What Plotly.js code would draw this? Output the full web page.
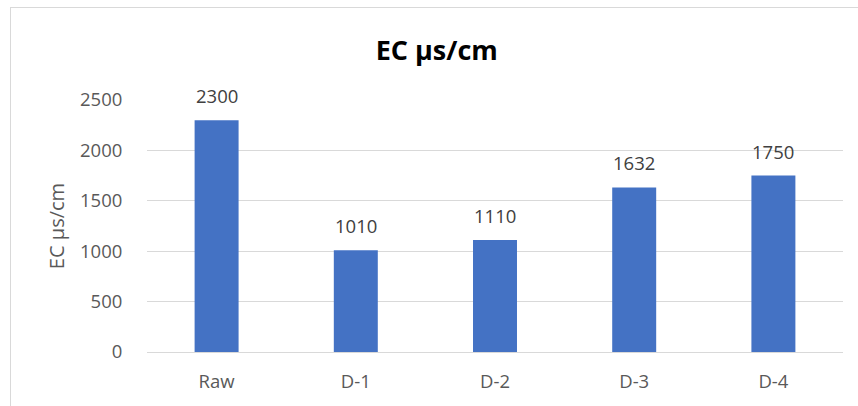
<!DOCTYPE html>
<html>
<head>
<meta charset="utf-8">
<script src="https://cdn.plot.ly/plotly-3.0.1.min.js"></script>
<style>
  html, body { margin: 0; padding: 0; background: #ffffff; }
  #wrap { position: relative; width: 858px; height: 406px; overflow: hidden; }
  #chart { width: 858px; height: 406px; }
  #frame {
    position: absolute; left: 10px; top: 7px; width: 860px; height: 420px;
    border-left: 1px solid #d9d9d9; border-top: 1px solid #d9d9d9;
    pointer-events: none;
  }
</style>
</head>
<body>
<div id="wrap">
  <div id="chart"></div>
  <div id="frame"></div>
</div>
<script>
// EC measurements per sample
const categories = ["Raw", "D-1", "D-2", "D-3", "D-4"];
const ecValues = [2300, 1010, 1110, 1632, 1750];
const yTicks = [0, 500, 1000, 1500, 2000, 2500];

const FONT = "Open Sans, Noto Sans, sans-serif";

const trace = {
  type: "bar",
  x: categories,
  y: ecValues,
  marker: { color: "#4472C4" },
  hoverinfo: "x+y"
};

// value labels above each bar
const labels = categories.map((c, i) => ({
  x: c, y: ecValues[i], xref: "x", yref: "y",
  text: String(ecValues[i]), showarrow: false,
  yanchor: "bottom", yshift: 10,
  font: { family: FONT, size: 18.5, color: "#404040" }
}));

const layout = {
  width: 858, height: 406,
  margin: { l: 147, r: 15, t: 100, b: 54 },
  paper_bgcolor: "#ffffff", plot_bgcolor: "#ffffff",
  bargap: 0.684,
  showlegend: false,
  title: {
    text: "<b>EC µs/cm</b>",
    x: 0.509, xanchor: "center",
    y: 0.875, yanchor: "middle",
    font: { family: FONT, size: 27, color: "#000000" }
  },
  xaxis: {
    type: "category",
    showgrid: false,
    showline: true, linecolor: "#d9d9d9", linewidth: 1,
    ticks: "outside", ticklen: 13, tickcolor: "rgba(0,0,0,0)",
    tickfont: { family: FONT, size: 18.5, color: "#595959" },
    zeroline: false
  },
  yaxis: {
    range: [0, 2500],
    tickvals: yTicks,
    showgrid: true, gridcolor: "#d9d9d9", gridwidth: 1,
    zeroline: false, showline: false,
    ticks: "outside", ticklen: 20, tickcolor: "rgba(0,0,0,0)",
    tickfont: { family: FONT, size: 18.5, color: "#595959" },
    title: {
      text: "EC µs/cm",
      standoff: 9,
      font: { family: FONT, size: 20, color: "#595959" }
    }
  },
  annotations: labels
};

Plotly.newPlot("chart", [trace], layout, { displayModeBar: false, staticPlot: true });
</script>
</body>
</html>
